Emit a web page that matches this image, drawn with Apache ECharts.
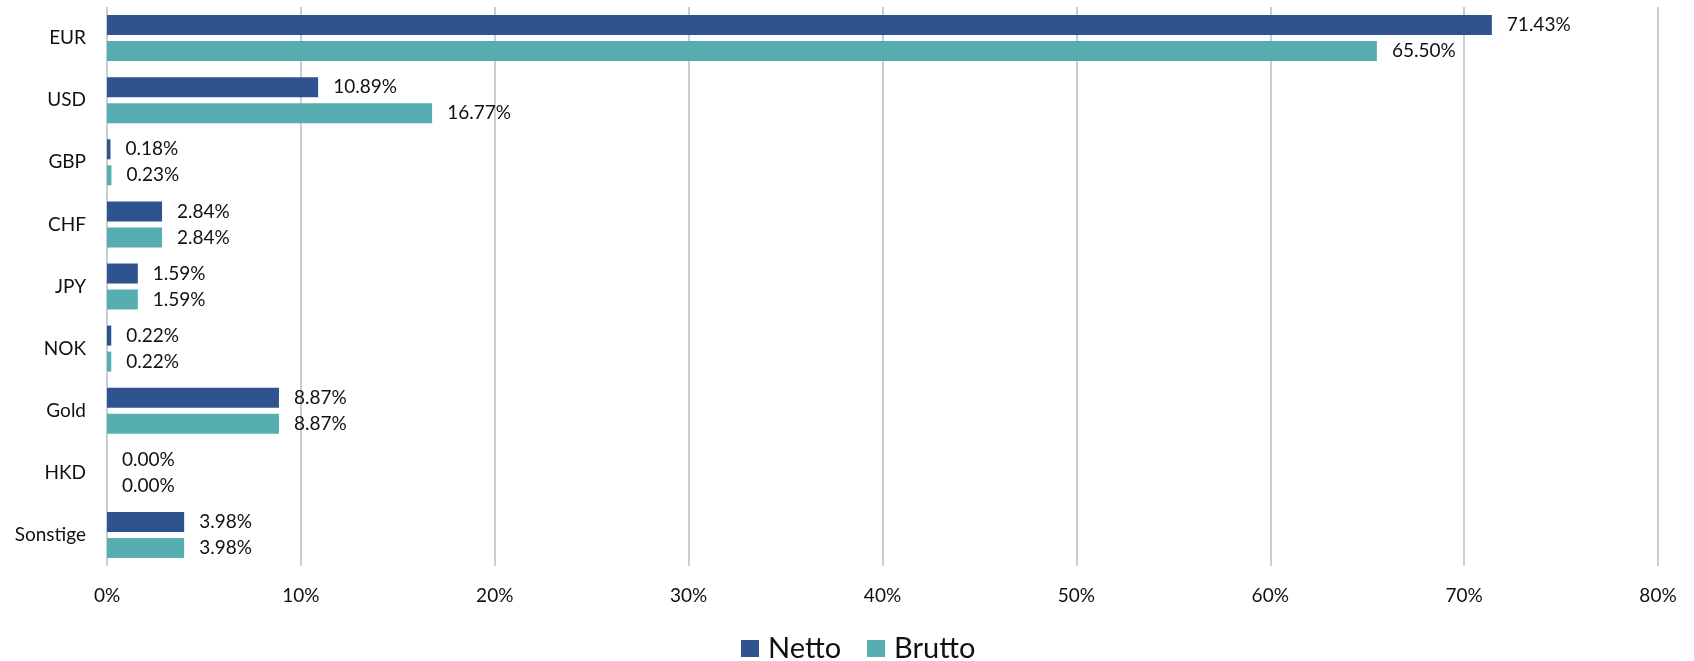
<!DOCTYPE html>
<html>
<head>
<meta charset="utf-8">
<script src="https://cdn.jsdelivr.net/npm/echarts@6/dist/echarts.min.js"></script>
<style>
  html, body { margin: 0; padding: 0; background: #fff; }
  #chart { width: 1694px; height: 661px; }
</style>
</head>
<body>
<div id="chart"></div>
<script>
// Währungsaufteilung
var categories = ["EUR", "USD", "GBP", "CHF", "JPY", "NOK", "Gold", "HKD", "Sonstige"];
var netto = [71.43, 10.89, 0.18, 2.84, 1.59, 0.22, 8.87, 0.00, 3.98];
var brutto = [65.50, 16.77, 0.23, 2.84, 1.59, 0.22, 8.87, 0.00, 3.98];
var xTicks = [0, 10, 20, 30, 40, 50, 60, 70, 80];

var colorList = ["#2e538f", "#57aeb0"];
var fontName = "Lato, 'Open Sans', sans-serif";

var chart = echarts.init(document.getElementById("chart"));

function pctLabel(p) {
  return p.value.toFixed(2) + "%";
}

chart.setOption({
  animation: false,
  color: colorList,
  textStyle: { fontFamily: fontName },
  grid: { left: 107, right: 36, top: 7, bottom: 95, containLabel: false },
  legend: {
    top: 634,
    left: 741,
    padding: 0,
    icon: "rect",
    itemWidth: 18,
    itemHeight: 17,
    itemGap: 26,
    textStyle: { fontSize: 29, color: "#111", fontFamily: fontName, padding: [0, 0, 0, 4] },
    data: ["Netto", "Brutto"]
  },
  xAxis: {
    type: "value",
    min: xTicks[0],
    max: xTicks[xTicks.length - 1],
    interval: 10,
    axisLine: { show: false },
    axisTick: { show: false },
    splitLine: { show: true, lineStyle: { color: "#c4d0d3", width: 2 } },
    axisLabel: {
      margin: 20,
      fontSize: 19,
      color: "#111",
      formatter: "{value}%"
    }
  },
  yAxis: {
    type: "category",
    inverse: true,
    data: categories,
    axisLine: { show: false },
    axisTick: { show: false },
    axisLabel: { margin: 21, fontSize: 19, color: "#111" }
  },
  series: [
    {
      name: "Netto",
      type: "bar",
      data: netto,
      barWidth: 20,
      barGap: "30%",
      label: { show: true, position: "right", distance: 15, fontSize: 19, color: "#111", formatter: pctLabel }
    },
    {
      name: "Brutto",
      type: "bar",
      data: brutto,
      barWidth: 20,
      barGap: "30%",
      label: { show: true, position: "right", distance: 15, fontSize: 19, color: "#111", formatter: pctLabel }
    }
  ]
});
</script>
</body>
</html>
